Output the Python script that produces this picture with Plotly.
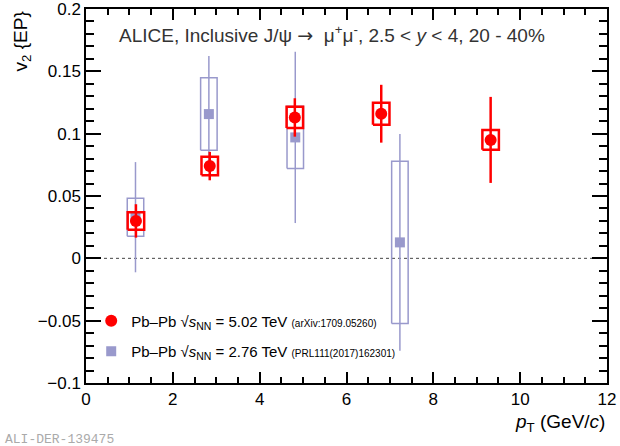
import plotly.graph_objects as go

# J/psi v2{EP}, 20-40%
pt_502 = [1.15, 2.85, 4.81, 6.80, 9.32]
v2_502 = [0.030, 0.074, 0.113, 0.116, 0.095]
stat_502 = [0.0134, 0.0114, 0.0154, 0.0232, 0.0345]
syst_502 = [0.0070, 0.0074, 0.0085, 0.0088, 0.0080]

pt_276 = [1.14, 2.83, 4.82, 7.23]
v2_276 = [0.033, 0.1157, 0.097, 0.0128]
stat_276 = [0.0442, 0.0465, 0.0687, 0.087]
syst_276 = [0.0152, 0.0291, 0.0249, 0.0651]

label_502 = "5.02 TeV"
label_276 = "2.76 TeV"
ref_502 = "(arXiv:1709.05260)"
ref_276 = "(PRL111(2017)162301)"

RED = "#ff0000"
BLUE = "#9999cc"
FONT = "Liberation Sans"
HALF_W = 0.19  # half width of the systematic boxes, in GeV/c


def box_path(xs, ys, errs, dx=HALF_W):
    px, py = [], []
    for x, y, e in zip(xs, ys, errs):
        px += [x - dx, x + dx, x + dx, x - dx, x - dx, None]
        py += [y - e, y - e, y + e, y + e, y - e, None]
    return px, py


def leg_name(energy, ref):
    return ("Pb\u2013Pb \u221a<i>s</i><sub>NN</sub> = " + energy +
            " <span style='font-size:10px'>" + ref + "</span>")


fig = go.Figure()

bx, by = box_path(pt_276, v2_276, syst_276)
fig.add_trace(go.Scatter(x=bx, y=by, mode="lines", showlegend=False,
                         line=dict(color=BLUE, width=1.5), hoverinfo="skip"))
fig.add_trace(go.Scatter(x=pt_276, y=v2_276, mode="markers",
                         name=leg_name(label_276, ref_276), legendgroup="b",
                         legendrank=2,
                         marker=dict(symbol="square", size=10, color=BLUE),
                         error_y=dict(type="data", array=stat_276, width=0,
                                      thickness=1.5, color=BLUE)))

bx, by = box_path(pt_502, v2_502, syst_502)
fig.add_trace(go.Scatter(x=bx, y=by, mode="lines", showlegend=False,
                         line=dict(color=RED, width=2.5), hoverinfo="skip"))
fig.add_trace(go.Scatter(x=pt_502, y=v2_502, mode="markers",
                         name=leg_name(label_502, ref_502), legendgroup="a",
                         legendrank=1,
                         marker=dict(symbol="circle", size=12, color=RED),
                         error_y=dict(type="data", array=stat_502, width=0,
                                      thickness=2.5, color=RED)))

# dotted zero line
fig.add_shape(type="line", xref="paper", x0=0, x1=1, yref="y", y0=0, y1=0,
              line=dict(color="#444444", width=1, dash="dot"), layer="below")

axis = dict(showline=True, linecolor="black", linewidth=1.5, mirror="ticks",
            ticks="inside", tickcolor="black", tickwidth=1.5,
            showgrid=False, zeroline=False, automargin=False,
            ticklabeloverflow="allow",
            tickfont=dict(family=FONT, size=17, color="black"))

fig.update_xaxes(range=[0, 12], dtick=2, tick0=0, ticklen=11,
                 minor=dict(dtick=0.5, ticklen=6, ticks="inside",
                            tickcolor="black", tickwidth=1.5), **axis)
fig.update_yaxes(range=[-0.1, 0.2], dtick=0.05, tick0=0, ticklen=15,
                 minor=dict(dtick=0.01, ticklen=8, ticks="inside",
                            tickcolor="black", tickwidth=1.5), **axis)

fig.add_annotation(text="ALICE, Inclusive J/\u03c8 <span style='font-family:DejaVu Sans'>\u2192</span>  \u03bc<sup>+</sup>"
                        "\u03bc<sup>-</sup>, 2.5 &lt; <i>y</i> &lt; 4, 20 - 40%",
                   xref="paper", yref="paper", x=0.06, y=0.933,
                   xanchor="left", yanchor="middle", showarrow=False,
                   font=dict(family=FONT, size=19, color="#333333"))
fig.add_annotation(text="v<sub>2</sub> {EP}", textangle=-90,
                   xref="paper", yref="paper", x=-0.122, y=1.0,
                   xanchor="center", yanchor="top", showarrow=False,
                   font=dict(family=FONT, size=19, color="black"))
fig.add_annotation(text="<i>p</i><sub>T</sub> (GeV/<i>c</i>)",
                   xref="paper", yref="paper", x=1.0, y=-0.107,
                   xanchor="right", yanchor="middle", showarrow=False,
                   font=dict(family=FONT, size=19, color="black"))
fig.add_annotation(text="ALI-DER-139475", xref="paper", yref="paper",
                   x=-0.16, y=-0.15, xanchor="left", yanchor="middle",
                   showarrow=False,
                   font=dict(family="Liberation Mono", size=13, color="#aaaaaa"))

fig.update_layout(
    width=620, height=446,
    margin=dict(l=86, r=13, t=9, b=63),
    paper_bgcolor="white", plot_bgcolor="white",
    showlegend=True,
    legend=dict(x=0.01, y=0.21, xanchor="left", yanchor="top",
                traceorder="grouped", tracegroupgap=8,
                bgcolor="rgba(0,0,0,0)",
                font=dict(family=FONT, size=15, color="black")),
)

fig.write_html("out.html", config={"displayModeBar": False},
               post_script="document.body.style.margin='0';")
